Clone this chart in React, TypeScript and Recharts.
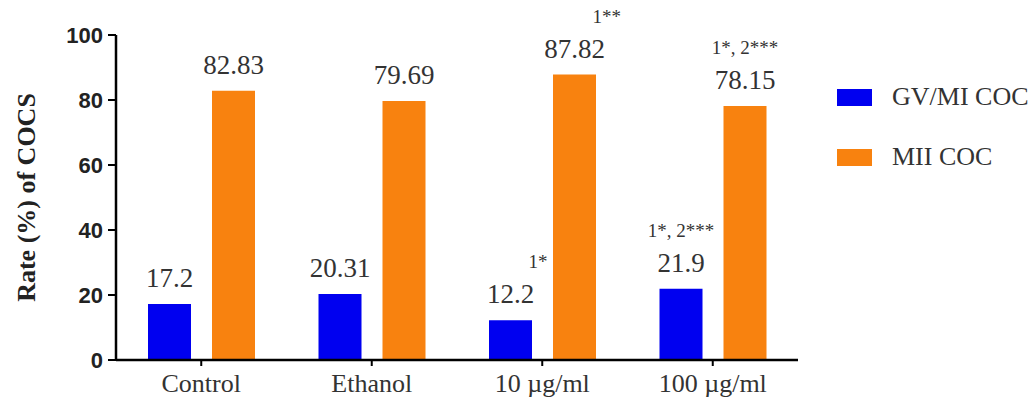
import React from 'react';
import { BarChart, Bar, XAxis, YAxis, LabelList } from 'recharts';

const categories = ['Control', 'Ethanol', '10 \u00b5g/ml', '100 \u00b5g/ml'];
const gvmiValues = [17.2, 20.31, 12.2, 21.9];
const miiValues = [82.83, 79.69, 87.82, 78.15];
const gvmiNotes = ['', '', '1*', '1*, 2***'];
const miiNotes = ['', '', '1**', '1*, 2***'];
const yTicks = [0, 20, 40, 60, 80, 100];
const seriesNames = ['GV/MI COC', 'MII COC'];
const seriesColors = ['#0000f0', '#f8820f'];

const data = categories.map((c, i) => ({
  name: c,
  gvmi: gvmiValues[i],
  mii: miiValues[i],
}));

const SERIF = '"Liberation Serif", "Times New Roman", serif';
const SANS = '"Liberation Sans", Arial, sans-serif';

const makeLabel = (notes: string[]) => (props: any) => {
  const { x, y, width, value, index } = props;
  const cx = Number(x) + Number(width) / 2;
  const top = Number(y);
  const note = notes[index] || '';
  const centered = note.indexOf(',') >= 0;
  return (
    <g>
      <text x={cx} y={top - 17} textAnchor="middle" fontFamily={SERIF} fontSize={27} fill="#333">
        {value}
      </text>
      {note ? (
        <text
          x={centered ? cx : cx + 18}
          y={top - 52}
          textAnchor={centered ? 'middle' : 'start'}
          fontFamily={SERIF}
          fontSize={19}
          fill="#333"
        >
          {note}
        </text>
      ) : null}
    </g>
  );
};

const LegendBox = () => (
  <div
    style={{
      position: 'absolute',
      left: 837,
      top: 67,
      fontFamily: SERIF,
      fontSize: 26,
      color: '#333',
    }}
  >
    {seriesNames.map((n, i) => (
      <div key={n} style={{ display: 'flex', alignItems: 'center', height: 60 }}>
        <div style={{ width: 35, height: 17, background: seriesColors[i], marginRight: 20 }} />
        <span style={{ whiteSpace: 'nowrap' }}>{n}</span>
      </div>
    ))}
  </div>
);

export default function App() {
  return (
    <div style={{ position: 'absolute', left: 0, top: 0, width: 1033, height: 405, background: '#fff' }}>
      <BarChart
        width={1033}
        height={405}
        data={data}
        margin={{ top: 35, right: 235, left: 0, bottom: 0 }}
        barSize={43}
        barGap={21}
      >
        <XAxis
          dataKey="name"
          height={45}
          axisLine={{ stroke: '#000', strokeWidth: 2.5 }}
          tickLine={{ stroke: '#000', strokeWidth: 2 }}
          tickSize={6}
          tickMargin={8}
          tick={{ fontFamily: SERIF, fontSize: 26, fill: '#333' }}
        />
        <YAxis
          width={116}
          domain={[0, 100]}
          ticks={yTicks}
          axisLine={{ stroke: '#000', strokeWidth: 2.5 }}
          tickLine={{ stroke: '#000', strokeWidth: 2 }}
          tickSize={8}
          tickMargin={5}
          tick={{ fontFamily: SANS, fontSize: 22, fontWeight: 'bold', fill: '#222' }}
          label={{
            value: 'Rate (%) of COCS',
            angle: -90,
            position: 'insideLeft',
            dx: 21,
            dy: 0,
            style: { textAnchor: 'middle', fontFamily: SERIF, fontSize: 26, fontWeight: 'bold', fill: '#222' },
          }}
        />
        <Bar dataKey="gvmi" name={seriesNames[0]} fill={seriesColors[0]} isAnimationActive={false}>
          <LabelList dataKey="gvmi" content={makeLabel(gvmiNotes)} />
        </Bar>
        <Bar dataKey="mii" name={seriesNames[1]} fill={seriesColors[1]} isAnimationActive={false}>
          <LabelList dataKey="mii" content={makeLabel(miiNotes)} />
        </Bar>
      </BarChart>
      <LegendBox />
    </div>
  );
}
